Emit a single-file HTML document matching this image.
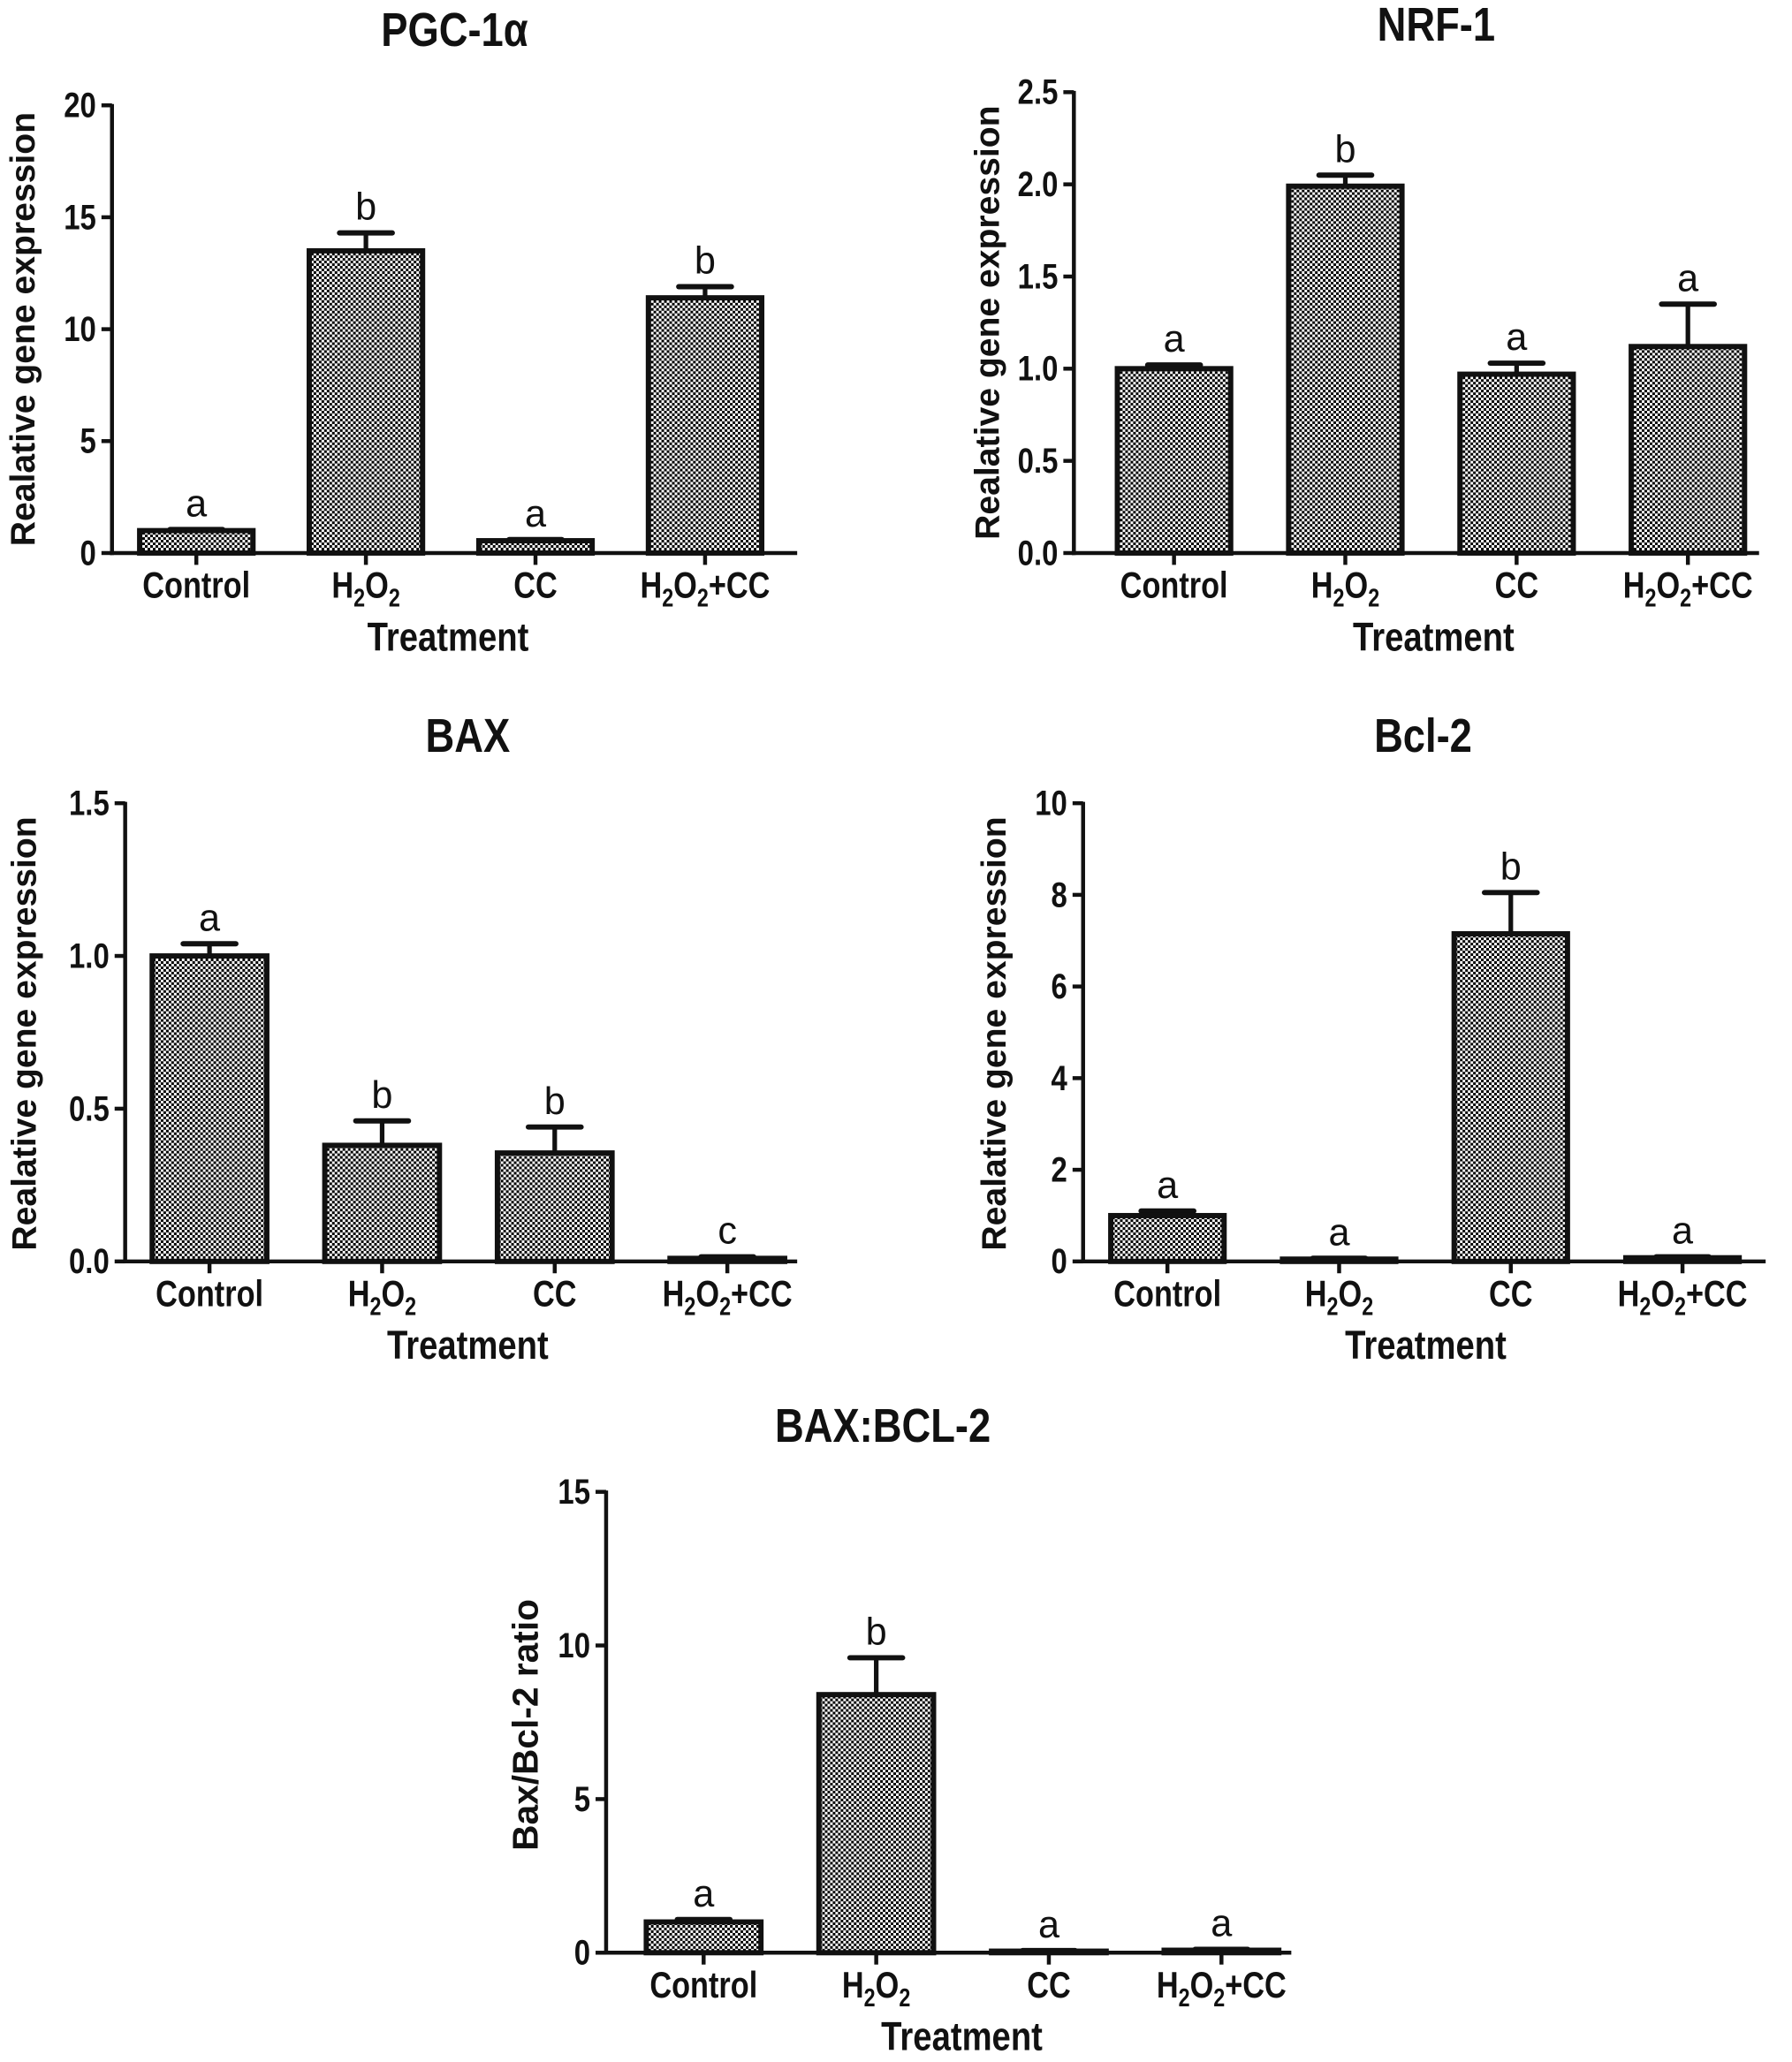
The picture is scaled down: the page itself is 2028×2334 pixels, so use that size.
<!DOCTYPE html>
<html><head><meta charset="utf-8"><style>
html,body{margin:0;padding:0;background:#fff;}
svg{display:block;}
text{font-family:"Liberation Sans",sans-serif;fill:#111;}
</style></head><body>
<svg id="fig" width="2028" height="2334" viewBox="0 0 1360 1566" preserveAspectRatio="none">
<defs>
<pattern id="chk" width="4" height="4" patternUnits="userSpaceOnUse">
<rect width="4" height="4" fill="#fff"/>
<rect width="2" height="2" fill="#000"/>
<rect x="2" y="2" width="2" height="2" fill="#000"/>
</pattern>
</defs>
</svg>
<script>
const categories = ["Control", "H2O2", "CC", "H2O2+CC"];
const pgcValues = [1.0, 13.5, 0.55, 11.4];
const pgcErrors = [0.05, 0.8, 0.05, 0.5];
const pgcLetters = ["a", "b", "a", "b"];
const pgcTicks = [0, 5, 10, 15, 20];
const nrfValues = [1.0, 1.99, 0.97, 1.12];
const nrfErrors = [0.02, 0.06, 0.06, 0.23];
const nrfLetters = ["a", "b", "a", "a"];
const nrfTicks = ["0.0", "0.5", "1.0", "1.5", "2.0", "2.5"];
const baxValues = [1.0, 0.38, 0.355, 0.01];
const baxErrors = [0.04, 0.08, 0.085, 0.005];
const baxLetters = ["a", "b", "b", "c"];
const baxTicks = ["0.0", "0.5", "1.0", "1.5"];
const bclValues = [1.0, 0.05, 7.15, 0.08];
const bclErrors = [0.1, 0.02, 0.9, 0.02];
const bclLetters = ["a", "a", "b", "a"];
const bclTicks = [0, 2, 4, 6, 8, 10];
const ratioValues = [1.0, 8.4, 0.05, 0.08];
const ratioErrors = [0.08, 1.2, 0.02, 0.03];
const ratioLetters = ["a", "b", "a", "a"];
const ratioTicks = [0, 5, 10, 15];

const NS = "http://www.w3.org/2000/svg";
const svg = document.getElementById("fig");
function mk(tag, attrs, parent) {
  const e = document.createElementNS(NS, tag);
  for (const k in attrs) e.setAttribute(k, attrs[k]);
  (parent || svg).appendChild(e);
  return e;
}
function catLabel(g, c, x, y) {
  const t = mk("text", {x: x, y: y, "text-anchor": "middle", "font-size": 25, "font-weight": "bold", transform: "translate(" + x + "," + y + ") scale(0.92,1.12) translate(" + (-x) + "," + (-y) + ")"}, g);
  if (c.indexOf("H2O2") === 0) {
    t.innerHTML = 'H<tspan font-size="17" dy="6">2</tspan><tspan dy="-6">O</tspan><tspan font-size="17" dy="6">2</tspan><tspan dy="-6">' + c.slice(4) + '</tspan>';
  } else t.textContent = c;
  return t;
}
function chart(id, title, ylab, vals, errs, letters, ticks, L) {
  const g = mk("g", {});
  
  
  const ymax = parseFloat(ticks[ticks.length - 1]);
  const ys = v => L.y0 - (v / ymax) * (L.y0 - L.ytop);
  const tt = mk("text", {x: L.tx, y: L.ty, "text-anchor": "middle", "font-size": 32, "font-weight": "bold", transform: "translate(" + L.tx + "," + L.ty + ") scale(0.95,1.12) translate(" + (-L.tx) + "," + (-L.ty) + ")"}, g);
  tt.textContent = title;
  
  
  const yl = mk("text", {x: 0, y: 0, transform: "translate(" + L.ylx + "," + L.yly + ") rotate(-90) scale(1.05,1.05)", "text-anchor": "middle", "font-size": L.ylfs || 25, "font-weight": "bold"}, g);
  yl.textContent = ylab;
  
  
  ticks.forEach(tk => {
    const y = ys(parseFloat(tk));
    mk("line", {x1: L.ax - 8, x2: L.ax, y1: y, y2: y, stroke: "#111", "stroke-width": 3}, g);
    const tx = L.ax - 12, ty = y + 9;
    const t = mk("text", {x: tx, y: ty, "text-anchor": "end", "font-size": 24, "font-weight": "bold", transform: "translate(" + tx + "," + ty + ") scale(0.92,1.12) translate(" + (-tx) + "," + (-ty) + ")"}, g);
    t.textContent = tk;
    
    
  });
  const bw = L.bw;
  vals.forEach((v, i) => {
    const cx = L.c0 + i * L.step;
    const top = ys(v), et = ys(v + errs[i]);
    const eb = mk("line", {x1: cx, x2: cx, y1: top, y2: et, stroke: "#111", "stroke-width": 3.5}, g);
    
    
    mk("line", {x1: cx - 20, x2: cx + 20, y1: et, y2: et, stroke: "#111", "stroke-width": 4, "stroke-linecap": "round"}, g);
    const r = mk("rect", {x: cx - bw / 2, y: top, width: bw, height: Math.max(L.y0 - top, 0.5), fill: "url(#chk)", stroke: "#111", "stroke-width": 4}, g);
    
    
    const lt = mk("text", {x: cx, y: et - 10, "text-anchor": "middle", "font-size": 29}, g);
    lt.textContent = letters[i];
    
    
    mk("line", {x1: cx, x2: cx, y1: L.y0, y2: L.y0 + 9, stroke: "#111", "stroke-width": 3}, g);
    const cl = catLabel(g, categories[i], cx, L.y0 + 34);
    
    
  });
  mk("line", {x1: L.ax, x2: L.ax, y1: L.ytop - 1, y2: L.y0 + 1.5, stroke: "#111", "stroke-width": 3}, g);
  mk("line", {x1: L.ax - 1.5, x2: L.xend, y1: L.y0, y2: L.y0, stroke: "#111", "stroke-width": 3}, g);
  const xx = L.xtx, xy = L.y0 + 74;
  const xt = mk("text", {x: xx, y: xy, "text-anchor": "middle", "font-size": 27, "font-weight": "bold", transform: "translate(" + xx + "," + xy + ") scale(0.95,1.12) translate(" + (-xx) + "," + (-xy) + ")"}, g);
  xt.textContent = "Treatment";
  
  
}
chart("pgc", "PGC-1α", "Realative gene expression", pgcValues, pgcErrors, pgcLetters, pgcTicks,
  {ax: 85, ytop: 80, y0: 420, xend: 605, c0: 149, step: 128.7, bw: 86, tx: 345, ty: 35, ylx: 26, yly: 250, xtx: 340});
chart("nrf", "NRF-1", "Realative gene expression", nrfValues, nrfErrors, nrfLetters, nrfTicks,
  {ax: 815, ytop: 70, y0: 420, xend: 1335, c0: 891, step: 130, bw: 86, tx: 1090, ty: 31, ylx: 758, yly: 245, xtx: 1088});
chart("bax", "BAX", "Realative gene expression", baxValues, baxErrors, baxLetters, baxTicks,
  {ax: 95, ytop: 610, y0: 958, xend: 605, c0: 159, step: 131, bw: 87, tx: 355, ty: 571, ylx: 27, yly: 785, xtx: 355});
chart("bcl", "Bcl-2", "Realative gene expression", bclValues, bclErrors, bclLetters, bclTicks,
  {ax: 822, ytop: 610, y0: 958, xend: 1340, c0: 886, step: 130.3, bw: 86, tx: 1080, ty: 571, ylx: 763, yly: 785, xtx: 1082});
chart("ratio", "BAX:BCL-2", "Bax/Bcl-2 ratio", ratioValues, ratioErrors, ratioLetters, ratioTicks,
  {ax: 460, ytop: 1133, y0: 1483, xend: 980, c0: 534, step: 131, bw: 87, tx: 670, ty: 1095, ylx: 408, yly: 1310, xtx: 730, ylfs: 26});
</script>
</body></html>
